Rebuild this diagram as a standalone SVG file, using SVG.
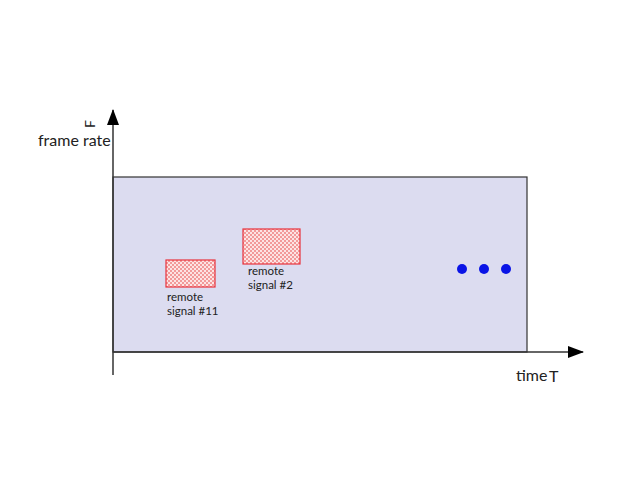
<svg xmlns="http://www.w3.org/2000/svg" width="640" height="480" viewBox="0 0 640 480">
<style>
.lbl{font-family:Lato,"Noto Sans","Liberation Sans",sans-serif;fill:#222}
.small{font-size:11.5px}
.ax{stroke:#333;stroke-width:1.5;fill:none}
.sig{stroke:#e8323c;stroke-width:1.2;fill:url(#chk)}
.dot{fill:#0a14e6}
</style>
<defs>
<pattern id="chk" width="4" height="4" patternUnits="userSpaceOnUse">
<rect width="4" height="4" fill="#fde4e4"/>
<rect width="2" height="2" fill="#f29a9a"/>
<rect x="2" y="2" width="2" height="2" fill="#f29a9a"/>
</pattern>
<marker id="arrH" markerWidth="16" markerHeight="12" refX="15" refY="6" orient="auto" markerUnits="userSpaceOnUse">
<path d="M0,0 L16,6 L0,12 Z" fill="#000"/>
</marker>
</defs>
<rect width="640" height="480" fill="#fff"/>
<g id="plot">
<rect x="113" y="177" width="414" height="175" fill="#dcdcf0" stroke="#333" stroke-width="1.2"/>
</g>
<g id="connectors">
<line class="ax" x1="113" y1="375" x2="113" y2="110" marker-end="url(#arrH)"/>
<line class="ax" x1="113" y1="352" x2="583" y2="352" marker-end="url(#arrH)"/>
</g>
<g id="axis-labels">
<text class="lbl" x="38" y="146" font-size="16">frame rate</text>
<text class="lbl" font-size="14" transform="translate(95,128) rotate(-90)">F</text>
<text class="lbl" x="516" y="381" font-size="16">time</text>
<text class="lbl" x="549" y="382" font-size="16">T</text>
</g>
<g id="signal11">
<rect class="sig" x="166" y="260" width="49" height="27"/>
<text class="lbl small" x="167" y="301">remote</text>
<text class="lbl small" x="167" y="315">signal #11</text>
</g>
<g id="signal2">
<rect class="sig" x="243" y="229" width="57" height="35"/>
<text class="lbl small" x="248" y="275">remote</text>
<text class="lbl small" x="248" y="289">signal #2</text>
</g>
<g id="ellipsis">
<circle class="dot" cx="462" cy="269" r="5"/>
<circle class="dot" cx="484" cy="269" r="5"/>
<circle class="dot" cx="506" cy="269" r="5"/>
</g>
</svg>
